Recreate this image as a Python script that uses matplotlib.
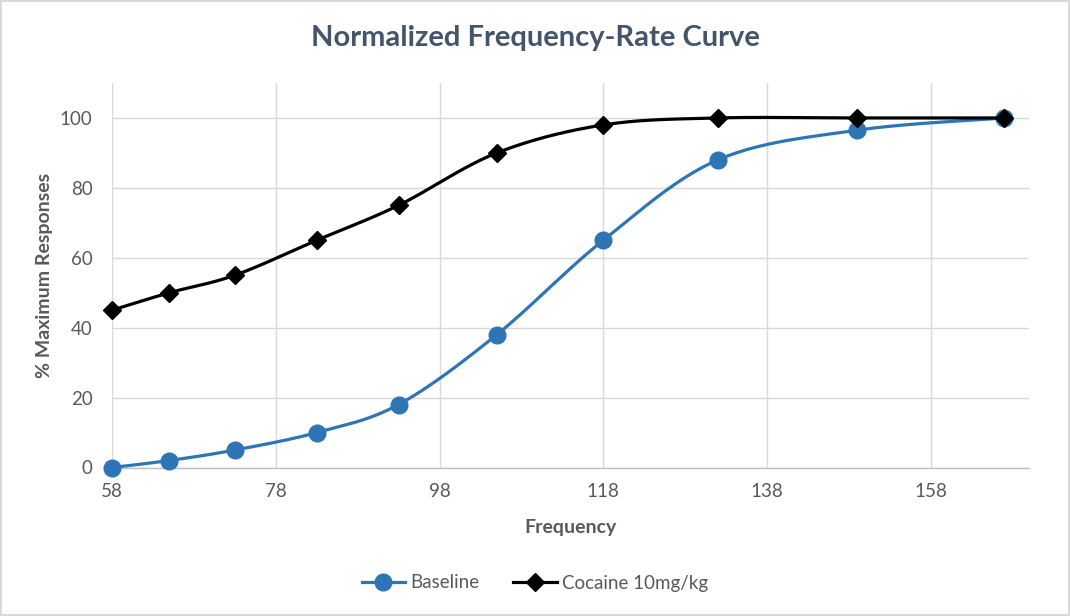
import numpy as np
import matplotlib
matplotlib.use("Agg")
import matplotlib.pyplot as plt
from matplotlib.lines import Line2D

# data
frequency = [58, 65, 73, 83, 93, 105, 118, 132, 149, 167]
baseline = [0, 2, 5, 10, 18, 38, 65, 88, 96.5, 100]
cocaine = [45, 50, 55, 65, 75, 90, 98, 100, 100, 100]

x_ticks = [58, 78, 98, 118, 138, 158]
y_ticks = [0, 20, 40, 60, 80, 100]

TITLE = "Normalized Frequency-Rate Curve"
X_LABEL = "Frequency"
Y_LABEL = "% Maximum Responses"
SERIES_NAMES = ["Baseline", "Cocaine 10mg/kg"]

BLUE = "#2E75B6"
TEXT = "#595959"
GRID = "#D9D9D9"

plt.rcParams["font.family"] = ["Lato", "DejaVu Sans"]


def smoothLine(xs, ys, n=40):
    """excel-style smoothed line: cubic bezier between points,
    control handles from neighbouring points (catmull-rom, 1/6)."""
    pts = np.column_stack([xs, ys]).astype(float)
    ext = np.vstack([pts[0], pts, pts[-1]])
    out = []
    t = np.linspace(0, 1, n)[:, None]
    for i in range(len(pts) - 1):
        p0 = ext[i + 1]
        p3 = ext[i + 2]
        c1 = p0 + (ext[i + 2] - ext[i]) / 6.0
        c2 = p3 - (ext[i + 3] - ext[i + 1]) / 6.0
        seg = ((1 - t) ** 3) * p0 + 3 * ((1 - t) ** 2) * t * c1 \
            + 3 * (1 - t) * t ** 2 * c2 + t ** 3 * p3
        out.append(seg if i == 0 else seg[1:])
    curve = np.vstack(out)
    return curve[:, 0], curve[:, 1]


fig = plt.figure(figsize=(10.7, 6.16), dpi=100)
fig.patch.set_facecolor("white")
fig.patch.set_edgecolor("#D9D9D9")
fig.patch.set_linewidth(1.5)

ax = fig.add_axes([112 / 1070, (616 - 467.5) / 616,
                   (1029 - 112) / 1070, (467.5 - 83) / 616])

ax.set_xlim(58, 170)
ax.set_ylim(0, 110)
ax.set_xticks(x_ticks)
ax.set_yticks(y_ticks)
ax.grid(True, color=GRID, linewidth=1.0)
ax.set_axisbelow(True)
for side in ("top", "right", "left"):
    ax.spines[side].set_visible(False)
ax.spines["bottom"].set_color("#BFBFBF")
ax.spines["bottom"].set_linewidth(1.0)
ax.tick_params(axis="both", length=0, labelsize=13.5, labelcolor=TEXT)
ax.tick_params(axis="x", pad=11)
ax.tick_params(axis="y", pad=14)

# baseline series
bx, by = smoothLine(frequency, baseline)
ax.plot(bx, by, color=BLUE, lw=2.3, solid_capstyle="round", zorder=3)
ax.plot(frequency, baseline, ls="none", marker="o", ms=12,
        color=BLUE, zorder=4, clip_on=False)

# cocaine series
cx, cy = smoothLine(frequency, cocaine)
ax.plot(cx, cy, color="black", lw=2.3, solid_capstyle="round", zorder=5)
ax.plot(frequency, cocaine, ls="none", marker="D", ms=9,
        color="black", zorder=6, clip_on=False)

ax.set_xlabel(X_LABEL, fontsize=14, fontweight="bold", color=TEXT, labelpad=14)
ax.set_ylabel(Y_LABEL, fontsize=14, fontweight="bold", color=TEXT, labelpad=5)

fig.text(0.5, 1 - 38 / 616, TITLE, ha="center", va="center",
         fontsize=21, fontweight="bold", color="#44546A")

handles = [
    Line2D([], [], color=BLUE, lw=2.3, marker="o", ms=12),
    Line2D([], [], color="black", lw=2.3, marker="D", ms=9),
]
fig.legend(handles, SERIES_NAMES, loc="center", ncol=2,
           bbox_to_anchor=(0.5, 1 - 583 / 616), frameon=False,
           fontsize=13.5, labelcolor=TEXT, handlelength=2.3,
           handletextpad=0.3, columnspacing=1.8)

fig.savefig("out.png", dpi=100, facecolor=fig.get_facecolor(),
            edgecolor=fig.get_edgecolor())
